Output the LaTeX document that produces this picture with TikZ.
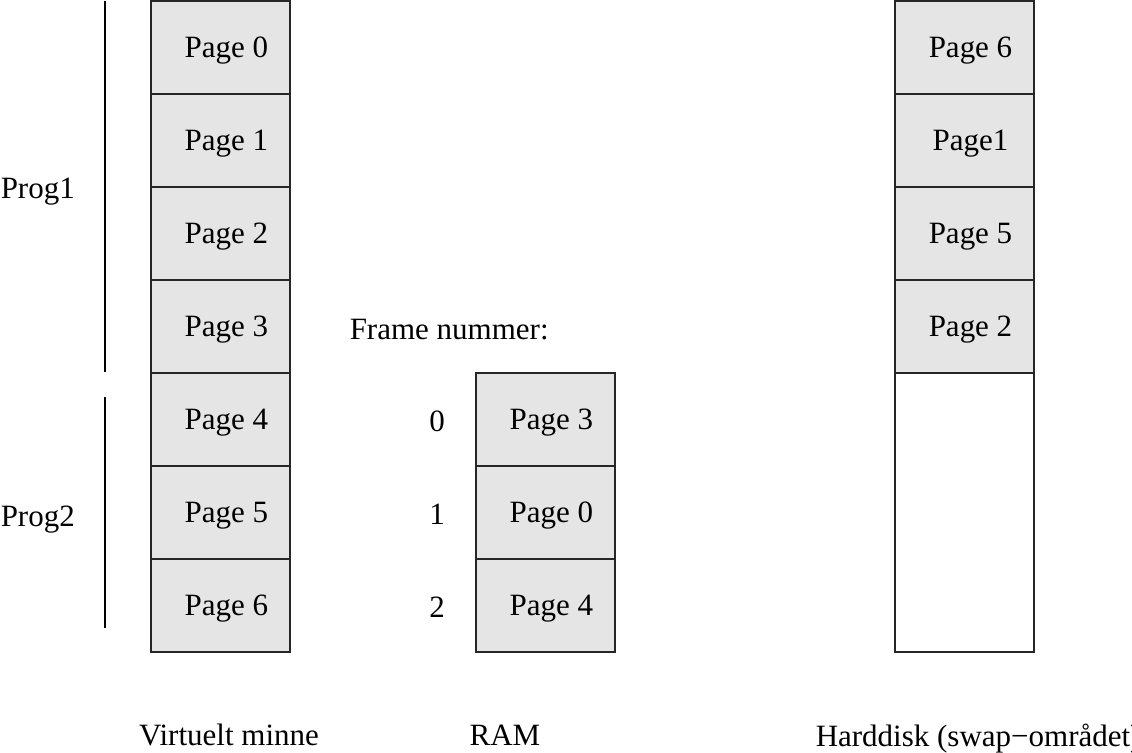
\documentclass[tikz,border=0pt]{standalone}
\usepackage{fontspec}
\setmainfont{Liberation Serif}
\definecolor{pagegray}{RGB}{229,229,229}

\begin{document}
\begin{tikzpicture}[x=0.5pt, y=-0.5pt, line width=0.75pt]

    \tikzset{page/.style={%
      draw=black!85,%
      fill=pagegray,%
      rectangle,%
      minimum width=69.5pt,%
      minimum height=46.5pt,%
      inner sep=0pt,%
      text depth=0pt,%
      execute at begin node=\hspace{6pt}}%
    };

    \tikzset{label/.style={inner sep=0pt, text depth=0pt}};

    \fontsize{15.5}{18}\selectfont
    \useasboundingbox (0,0) rectangle (1132,752);

    %%%%%%%%%%%%%%%%%%%%%
    %  virtuelt minne   %
    %%%%%%%%%%%%%%%%%%%%%
    \node [page] (vm0) at (220.5, 47.5) {Page 0};
    \node [page] (vm1) at (220.5, 140.5) {Page 1};
    \node [page] (vm2) at (220.5, 233.5) {Page 2};
    \node [page] (vm3) at (220.5, 326.5) {Page 3};
    \node [page] (vm4) at (220.5, 419.5) {Page 4};
    \node [page] (vm5) at (220.5, 512.5) {Page 5};
    \node [page] (vm6) at (220.5, 605.5) {Page 6};

    \coordinate (p1top) at (105, 1);
    \coordinate (p1bot) at (105, 372);
    \coordinate (p2top) at (105, 397);
    \coordinate (p2bot) at (105, 628);
    \draw (p1top) -- (p1bot);
    \draw (p2top) -- (p2bot);
    \node [label, anchor=west] (prog1) at (0, 188) {Prog1};
    \node [label, anchor=west] (prog2) at (0, 516) {Prog2};

    %%%%%%%%%%%%%%%
    %  RAM        %
    %%%%%%%%%%%%%%%
    \node [label, anchor=west] (fnr) at (349, 329) {Frame nummer:};
    \node [page] (ram0) at (545.5, 419.5) {Page 3};
    \node [page] (ram1) at (545.5, 512.5) {Page 0};
    \node [page] (ram2) at (545.5, 605.5) {Page 4};
    \node [label] (f0) at (437, 421) {0};
    \node [label] (f1) at (437, 514) {1};
    \node [label] (f2) at (437, 607) {2};

    %%%%%%%%%%%%%%%
    %  harddisk   %
    %%%%%%%%%%%%%%%
    \node [page] (hd0) at (964.5, 47.5) {Page 6};
    \node [page] (hd1) at (964.5, 140.5) {Page1};
    \node [page] (hd2) at (964.5, 233.5) {Page 5};
    \node [page] (hd3) at (964.5, 326.5) {Page 2};
    \node [page, fill=white, minimum height=139.5pt] (hdfree) at (964.5, 512.5) {};

    \node [label] (vmtxt) at (229, 735) {Virtuelt minne};
    \node [label] (ramtxt) at (505, 735) {RAM};
    \node [label, anchor=west] (hdtxt) at (815, 735) {Harddisk (swap−området)};

  \end{tikzpicture}
\end{document}
